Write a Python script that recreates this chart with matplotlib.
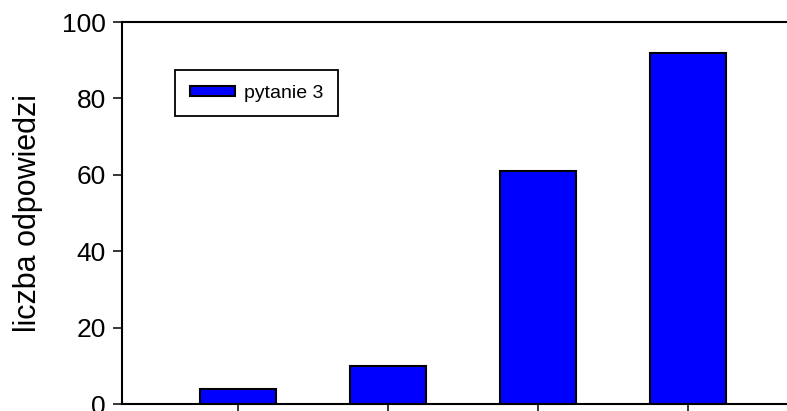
import matplotlib
matplotlib.use("Agg")
import matplotlib.pyplot as plt

categories = ["1", "2", "3", "4"]
values = [4, 10, 61, 92]
series_name = "pytanie 3"
y_ticks = [0, 20, 40, 60, 80, 100]

plt.rcParams['font.family'] = ['Liberation Sans', 'DejaVu Sans']

fig = plt.figure(figsize=(7.87, 4.11), dpi=100)
ax = fig.add_axes([122 / 787, 7 / 411, 665 / 787, 382 / 411])

x = list(range(len(categories)))
ax.bar(x, values, width=0.51, color='#0000ff', edgecolor='black',
       linewidth=1.5, label=series_name)

ax.set_xlim(-0.773, 3.66)
ax.set_ylim(0, 100)
ax.set_yticks(y_ticks)
ax.set_xticks(x)
ax.set_xticklabels([])
ax.tick_params(axis='both', direction='out', length=6.5, width=1.1,
               labelsize=19, pad=5)
ax.set_ylabel('liczba odpowiedzi', fontsize=22, labelpad=14)

ax.spines['right'].set_visible(False)
for s in ['top', 'left', 'bottom']:
    ax.spines[s].set_linewidth(1.5)

leg = ax.legend(loc='upper left', bbox_to_anchor=(0.08, 0.874), fontsize=14,
                fancybox=False, edgecolor='black', framealpha=1,
                handlelength=2.3, handleheight=0.45, borderpad=0.75,
                handletextpad=0.5, borderaxespad=0)
leg.get_frame().set_linewidth(1.3)

fig.savefig('out.png', dpi=100)
